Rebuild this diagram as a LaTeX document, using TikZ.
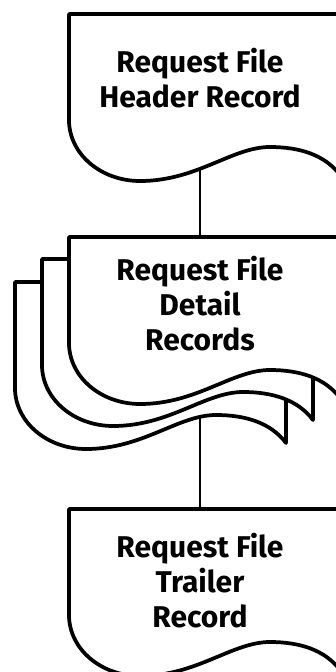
\documentclass[tikz,border=0pt]{standalone}
\usepackage{fontspec}
\setmainfont{Fira Sans}
\pgfdeclarelayer{bg}
\pgfsetlayers{bg,main}
\tikzset{
  doc/.style={draw=black, fill=white, line width=2.8pt, line join=round},
  lbl/.style={anchor=base, inner sep=0pt, font=\fontsize{22.5}{26.25}\selectfont\bfseries},
  link/.style={draw=black, line width=1.7pt},
}
\newcommand\docshape[2]{%
  \path[doc, shift={(#1,#2)}] (0,0) -- (271,0) -- (271,161)
    .. controls (256,141) and (231,133) .. (201,133)
    .. controls (163,133) and (128,167) .. (71,167)
    .. controls (32,167) and (0,140) .. (0,106) -- cycle;}
\begin{document}
\begin{tikzpicture}[x=0.75pt, y=-0.75pt]
  \useasboundingbox (0,0) rectangle (336,672);
  \begin{scope}
    \clip (0,0) rectangle (336,672);
    % header
    \docshape{69}{14}
    % detail stack
    \docshape{15}{282}
    \docshape{42}{259}
    \docshape{69}{237}
    % trailer
    \docshape{69}{509}
  \end{scope}
  \node[lbl] (hdr) at (200,72) {\begin{tabular}[t]{@{}c@{}}Request File\\Header Record\end{tabular}};
  \node[lbl] (det) at (200,280) {\begin{tabular}[t]{@{}c@{}}Request File\\Detail\\Records\end{tabular}};
  \node[lbl] (trl) at (200,557) {\begin{tabular}[t]{@{}c@{}}Request File\\Trailer\\Record\end{tabular}};
  \begin{pgfonlayer}{bg}
    \fill[white] (0,0) rectangle (336,672);
    \draw[link] (hdr) -- (det);
    \draw[link] (det) -- (trl);
  \end{pgfonlayer}
\end{tikzpicture}
\end{document}
